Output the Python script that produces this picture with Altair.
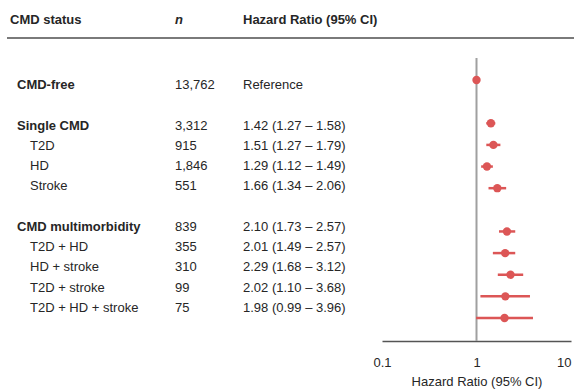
import altair as alt
import pandas as pd

# ---- data ----
labels = ["CMD-free", "Single CMD", "T2D", "HD", "Stroke",
          "CMD multimorbidity", "T2D + HD", "HD + stroke", "T2D + stroke", "T2D + HD + stroke"]
is_group = [True, True, False, False, False, True, False, False, False, False]
rows = [0, 2, 3, 4, 5, 7, 8, 9, 10, 11]
n_text = ["13,762", "3,312", "915", "1,846", "551", "839", "355", "310", "99", "75"]
hr = [1.00, 1.42, 1.51, 1.29, 1.66, 2.10, 2.01, 2.29, 2.02, 1.98]
lo = [None, 1.27, 1.27, 1.12, 1.34, 1.73, 1.49, 1.68, 1.10, 0.99]
hi = [None, 1.58, 1.79, 1.49, 2.06, 2.57, 2.57, 3.12, 3.68, 3.96]
hr_text = ["Reference", "1.42 (1.27 \u2013 1.58)", "1.51 (1.27 \u2013 1.79)", "1.29 (1.12 \u2013 1.49)",
           "1.66 (1.34 \u2013 2.06)", "2.10 (1.73 \u2013 2.57)", "2.01 (1.49 \u2013 2.57)",
           "2.29 (1.68 \u2013 3.12)", "2.02 (1.10 \u2013 3.68)", "1.98 (0.99 \u2013 3.96)"]
x_ticks = [0.1, 1, 10]

df = pd.DataFrame({"label": labels, "group": is_group, "row": rows, "n": n_text,
                   "hr": hr, "lo": lo, "hi": hi, "hrtext": hr_text})

FONT = "Liberation Sans"
TXT = "#262626"
RED = "#dc5656"

base = alt.Chart(df)

ytext = alt.Y("row:Q", scale=alt.Scale(domain=[0, 11], range=[85, 308]), axis=None)
yforest = alt.Y("row:Q", scale=alt.Scale(domain=[0, 11], range=[80, 318]), axis=None)

def txt(**kw):
    return dict(font=FONT, fontSize=13, color=TXT, align="left", baseline="middle", **kw)

group_lbl = base.transform_filter("datum.group").mark_text(**txt(fontWeight="bold")).encode(
    x=alt.value(17), y=ytext, text="label:N")
sub_lbl = base.transform_filter("!datum.group").mark_text(**txt()).encode(
    x=alt.value(30), y=ytext, text="label:N")
n_lbl = base.mark_text(**txt()).encode(x=alt.value(175), y=ytext, text="n:N")
hr_lbl = base.mark_text(**txt()).encode(x=alt.value(243), y=ytext, text="hrtext:N")

hdr = pd.DataFrame({"h": ["CMD status", "n", "Hazard Ratio (95% CI)"], "px": [10, 175, 243]})
hdr_bold = alt.Chart(hdr).transform_filter("datum.h != 'n'").mark_text(**txt(fontWeight="bold")).encode(
    x=alt.X("px:Q", scale=None), y=alt.value(20), text="h:N")
hdr_n = alt.Chart(hdr).transform_filter("datum.h == 'n'").mark_text(
    **txt(fontWeight="bold", fontStyle="italic")).encode(
    x=alt.X("px:Q", scale=None), y=alt.value(20), text="h:N")

hline = alt.Chart(hdr).mark_rule(color="#7a7a7a", strokeWidth=2).encode(
    x=alt.value(7), x2=alt.value(574), y=alt.value(38))

xscale = alt.Scale(type="log", domain=[0.1, 10], range=[382, 571])
xaxis = alt.Axis(values=x_ticks, title="Hazard Ratio (95% CI)", grid=False, ticks=False,
                 domainColor="#555555", domainWidth=1.5,
                 labelFont=FONT, labelFontSize=13, labelColor=TXT, labelPadding=15,
                 labelExpr="datum.value < 0.5 ? '0.1' : (datum.value < 5 ? '1' : '10')",
                 labelAlign={"condition": {"test": "datum.value >= 5", "value": "right"}, "value": "center"},
                 titleFont=FONT, titleFontSize=13, titleFontWeight="normal", titleColor=TXT,
                 titlePadding=6)

refline = alt.Chart(hdr).transform_filter("datum.h == 'n'").mark_rule(
    color="#a0a0a0", strokeWidth=2).encode(
    x=alt.datum(1, scale=xscale, axis=xaxis), y=alt.value(58), y2=alt.value(341))

ci = base.transform_filter("datum.lo != null").mark_rule(color=RED, strokeWidth=2.5).encode(
    x=alt.X("lo:Q", scale=xscale, axis=xaxis), x2="hi:Q", y=yforest)
pts = base.mark_circle(color=RED, size=70, opacity=1).encode(
    x=alt.X("hr:Q", scale=xscale, axis=xaxis), y=yforest)

chart = alt.layer(
    hline, hdr_bold, hdr_n, group_lbl, sub_lbl, n_lbl, hr_lbl, refline, ci, pts
).resolve_scale(y="independent").properties(
    width=574, height=341,
    padding={"left": 0, "top": 0, "right": 0, "bottom": 50},
    autosize=alt.AutoSizeParams(type="none"),
    background="white",
).configure_view(stroke=None)

chart.save("out.html", embed_options={"renderer": "svg", "actions": False})
